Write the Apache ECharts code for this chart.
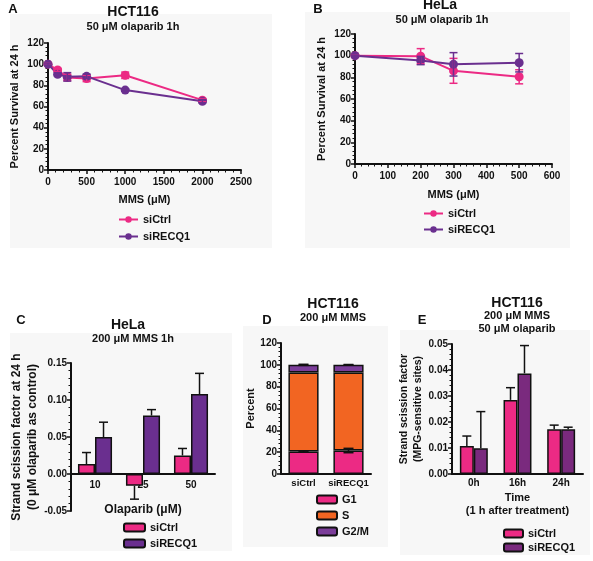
<!DOCTYPE html>
<html><head><meta charset="utf-8">
<script src="https://cdn.jsdelivr.net/npm/echarts@6/dist/echarts.min.js"></script>
<style>html,body{margin:0;padding:0;background:#fff}#c{width:593px;height:561px}</style>
</head><body><div id="c"></div>
<script>
// ---- Panel A: HCT116 survival ----
const aDose = [0, 125, 250, 500, 1000, 2000];
const aCtrl = [100, 94.5, 87.5, 86.5, 89.5, 66];
const aCtrlErr = [1, 1.5, 3, 3, 3, 1.5];
const aRecq = [100, 90.5, 88, 88.5, 75.5, 65];
const aRecqErr = [1, 1.5, 4, 2, 1, 1.5];
// ---- Panel B: HeLa survival ----
const bDose = [0, 200, 300, 500];
const bCtrl = [100, 99.5, 86, 80.5];
const bCtrlErr = [0.5, 7, 11.5, 6.5];
const bRecq = [100, 95.5, 92, 93.5];
const bRecqErr = [0.5, 3.8, 10.8, 8.5];
// ---- Panel C: HeLa strand scission ----
const cCats = ['10', '25', '50'];
const cCtrl = [0.0135, -0.016, 0.025];
const cCtrlErr = [0.0155, 0.018, 0.0095];
const cRecq = [0.050, 0.079, 0.108];
const cRecqErr = [0.020, 0.008, 0.028];
// ---- Panel D: cell cycle ----
const dCats = ['siCtrl', 'siRECQ1'];
const dG1 = [20.5, 21.5];
const dS = [72.5, 71.5];
const dG2 = [7, 7];
const dG1Err = [0.5, 2];
const dTopErr = [0.5, 0.3];
// ---- Panel E: HCT116 strand scission time course ----
const eCats = ['0h', '16h', '24h'];
const eCtrl = [0.0108, 0.0285, 0.0172];
const eCtrlErr = [0.0038, 0.0047, 0.0016];
const eRecq = [0.0099, 0.0387, 0.0172];
const eRecqErr = [0.0141, 0.0107, 0.0008];

const FONT = 'Liberation Sans';
const INK = '#111';
const PINK = '#ec2a84';
const PURPLE = '#6a2f8f';
const PURPLE_E = '#7a2a7e';
const ORANGE = '#f26522';
const G2COL = '#7b3d99';

const chart = echarts.init(document.getElementById('c'), null, {renderer: 'canvas'});

const lbl = (extra) => Object.assign({color: INK, fontFamily: FONT, fontWeight: 'bold', fontSize: 10, margin: 4, formatter: v => String(v)}, extra || {});
const nameStyle = (extra) => Object.assign({color: INK, fontFamily: FONT, fontWeight: 'bold', fontSize: 11}, extra || {});

function valAxis(gi, min, max, interval, extra) {
  return Object.assign({
    type: 'value', gridIndex: gi, min, max, interval,
    axisLine: {show: true, onZero: false, lineStyle: {color: INK, width: 2}},
    axisTick: {show: true, length: 4, lineStyle: {color: INK, width: 1.5}},
    minorTick: {show: true, splitNumber: 5, length: 2.5, lineStyle: {color: INK, width: 1}},
    splitLine: {show: false},
    axisLabel: lbl(),
    nameTextStyle: nameStyle()
  }, extra || {});
}
function catAxis(gi, data, extra) {
  return Object.assign({
    type: 'category', gridIndex: gi, data,
    axisLine: {show: true, onZero: false, lineStyle: {color: INK, width: 2}},
    axisTick: {show: false},
    axisLabel: lbl({interval: 0, margin: 4, formatter: null}),
    nameTextStyle: nameStyle()
  }, extra || {});
}

function errSeries(gi, name, vals, errs, color, opts) {
  const data = vals.map((v, i) => [opts.xs ? opts.xs[i] : i, v, errs[i]]);
  return {
    type: 'custom', name, xAxisIndex: gi, yAxisIndex: gi, z: opts.z || 3,
    encode: {x: 0, y: 1}, silent: true,
    data,
    renderItem: function (params, api) {
      const xv = api.value(0), yv = api.value(1), e = api.value(2);
      let cx = api.coord([xv, yv])[0];
      if (opts.offset !== undefined) cx += api.size([1, 0])[0] * opts.offset;
      const dir = yv < 0 ? -1 : 1;
      const yTop = api.coord([xv, yv + dir * e])[1];
      const yBot = opts.oneSided ? api.coord([xv, yv])[1] : api.coord([xv, yv - dir * e])[1];
      const hw = opts.cap / 2;
      const st = {stroke: color, lineWidth: 1.5};
      const ch = [
        {type: 'line', shape: {x1: cx, y1: yTop, x2: cx, y2: yBot}, style: st},
        {type: 'line', shape: {x1: cx - hw, y1: yTop, x2: cx + hw, y2: yTop}, style: st}
      ];
      if (!opts.oneSided) ch.push({type: 'line', shape: {x1: cx - hw, y1: yBot, x2: cx + hw, y2: yBot}, style: st});
      return {type: 'group', children: ch};
    }
  };
}

function lineSeries(gi, name, xs, ys, color) {
  return {
    type: 'line', name, xAxisIndex: gi, yAxisIndex: gi,
    data: xs.map((x, i) => [x, ys[i]]),
    symbol: 'circle', symbolSize: 9, z: 4,
    lineStyle: {color, width: 2}, itemStyle: {color},
    clip: false
  };
}
function barSeries(gi, name, vals, color, extra) {
  return Object.assign({
    type: 'bar', name, xAxisIndex: gi, yAxisIndex: gi, data: vals,
    itemStyle: {color, borderColor: INK, borderWidth: 1.5},
    barGap: '0%'
  }, extra || {});
}

const legendText = {color: INK, fontFamily: FONT, fontWeight: 'bold', fontSize: 11};
const fmt = n => n.split(':')[1];
function legend(left, top, gap, data, iw, useFmt) {
  const l = {orient: 'vertical', left, top, padding: 0, itemWidth: iw, itemHeight: 8, itemGap: gap, textStyle: legendText, data};
  if (useFmt) l.formatter = fmt;
  return l;
}

function txt(x, y, text, size, weight) {
  return {type: 'text', x, y, z: 10, style: {text, fill: INK, font: (weight || 'bold') + ' ' + size + 'px "' + FONT + '"', align: 'center', verticalAlign: 'middle'}};
}
function bgRect(x, y, w, h) {
  return {type: 'rect', shape: {x, y, width: w, height: h}, style: {fill: '#f7f7f7'}, z: -10, silent: true};
}

const option = {
  backgroundColor: '#fff',
  animation: false,
  grid: [
    {left: 48, top: 43, width: 193, height: 127},
    {left: 355, top: 34, width: 197, height: 130},
    {left: 71, top: 363, width: 144, height: 148},
    {left: 281, top: 343, width: 90, height: 131},
    {left: 452, top: 344, width: 131, height: 130}
  ],
  xAxis: [
    valAxis(0, 0, 2500, 500, {name: 'MMS (μM)', nameLocation: 'middle', nameGap: 24, axisLabel: lbl({margin: 7})}),
    valAxis(1, 0, 600, 100, {name: 'MMS (μM)', nameLocation: 'middle', nameGap: 25, axisLabel: lbl({margin: 7})}),
    catAxis(2, cCats, {name: 'Olaparib (μM)', nameLocation: 'middle', nameGap: 30, offset: -37,
      axisLabel: lbl({interval: 0, margin: 6, formatter: null}),
      nameTextStyle: nameStyle({fontSize: 12})}),
    catAxis(3, dCats, {axisLabel: lbl({interval: 0, margin: 4, formatter: null, fontSize: 9.5})}),
    catAxis(4, eCats, {name: 'Time\n(1 h after treatment)', nameLocation: 'middle', nameGap: 17, nameTextStyle: nameStyle({lineHeight: 13})})
  ],
  yAxis: [
    valAxis(0, 0, 120, 20, {name: 'Percent Survival at 24 h', nameLocation: 'middle', nameGap: 28}),
    valAxis(1, 0, 120, 20, {name: 'Percent Survival at 24 h', nameLocation: 'middle', nameGap: 28}),
    valAxis(2, -0.05, 0.15, 0.05, {name: 'Strand scission factor at 24 h\n(0 μM olaparib as control)', nameLocation: 'middle', nameGap: 30,
      axisLabel: lbl({formatter: v => v.toFixed(2)}),
      nameTextStyle: nameStyle({fontSize: 12, lineHeight: 16})}),
    valAxis(3, 0, 120, 20, {name: 'Percent', nameLocation: 'middle', nameGap: 24}),
    valAxis(4, 0, 0.05, 0.01, {name: 'Strand scission factor\n(MPG-sensitive sites)', nameLocation: 'middle', nameGap: 19,
      axisLabel: lbl({formatter: v => v.toFixed(2)}),
      nameTextStyle: nameStyle({fontSize: 10.5, lineHeight: 14})})
  ],
  legend: [
    legend(118, 214, 6, ['A:siCtrl', 'A:siRECQ1'], 19, true),
    legend(423, 208, 5, ['B:siCtrl', 'B:siRECQ1'], 19, true),
    legend(123, 522, 5, ['C:siCtrl', 'C:siRECQ1'], 21, true),
    legend(316, 494, 5, ['G1', 'S', 'G2/M'], 20, false),
    legend(503, 528, 3, ['E:siCtrl', 'E:siRECQ1'], 19, true)
  ],
  graphic: [
    bgRect(10, 14, 262, 234),
    bgRect(305, 12, 265, 236),
    bgRect(10, 333, 222, 218),
    bgRect(243, 326, 145, 221),
    bgRect(400, 330, 190, 225),
    txt(13, 9, 'A', 13), txt(133, 12, 'HCT116', 14), txt(133, 27, '50 μM olaparib 1h', 11),
    txt(318, 9, 'B', 13), txt(440, 5, 'HeLa', 14), txt(442, 20, '50 μM olaparib 1h', 11),
    txt(21, 320, 'C', 13), txt(128, 325, 'HeLa', 14), txt(133, 339, '200 μM MMS 1h', 11),
    txt(267, 320, 'D', 13), txt(333, 304, 'HCT116', 14), txt(333, 318, '200 μM MMS', 11),
    txt(422, 320, 'E', 13), txt(517, 303, 'HCT116', 14), txt(517, 316, '200 μM MMS', 11), txt(517, 329, '50 μM olaparib', 11)
  ],
  series: [
    // A
    errSeries(0, 'eA1', aCtrl, aCtrlErr, PINK, {xs: aDose, cap: 8, z: 5}),
    errSeries(0, 'eA2', aRecq, aRecqErr, PURPLE, {xs: aDose, cap: 8, z: 5}),
    lineSeries(0, 'A:siCtrl', aDose, aCtrl, PINK),
    lineSeries(0, 'A:siRECQ1', aDose, aRecq, PURPLE),
    // B
    errSeries(1, 'eB1', bCtrl, bCtrlErr, PINK, {xs: bDose, cap: 8, z: 5}),
    errSeries(1, 'eB2', bRecq, bRecqErr, PURPLE, {xs: bDose, cap: 8, z: 5}),
    lineSeries(1, 'B:siCtrl', bDose, bCtrl, PINK),
    lineSeries(1, 'B:siRECQ1', bDose, bRecq, PURPLE),
    // C
    barSeries(2, 'C:siCtrl', cCtrl, PINK, {barCategoryGap: '29%'}),
    barSeries(2, 'C:siRECQ1', cRecq, PURPLE, {barCategoryGap: '29%'}),
    errSeries(2, 'eC1', cCtrl, cCtrlErr, INK, {offset: -0.1775, cap: 9, oneSided: true, z: 1}),
    errSeries(2, 'eC2', cRecq, cRecqErr, INK, {offset: 0.1775, cap: 9, oneSided: true, z: 1}),
    // D
    barSeries(3, 'G1', dG1, PINK, {stack: 'd', barCategoryGap: '33%'}),
    barSeries(3, 'S', dS, ORANGE, {stack: 'd', barCategoryGap: '33%'}),
    barSeries(3, 'G2/M', dG2, G2COL, {stack: 'd', barCategoryGap: '33%'}),
    errSeries(3, 'eD1', dG1, dG1Err, INK, {offset: 0, cap: 10, z: 5}),
    errSeries(3, 'eD2', dG1.map((v, i) => v + dS[i] + dG2[i]), dTopErr, INK, {offset: 0, cap: 10, z: 5}),
    // E
    barSeries(4, 'E:siCtrl', eCtrl, PINK, {barCategoryGap: '36%'}),
    barSeries(4, 'E:siRECQ1', eRecq, PURPLE_E, {barCategoryGap: '36%'}),
    errSeries(4, 'eE1', eCtrl, eCtrlErr, INK, {offset: -0.16, cap: 9, oneSided: true, z: 1}),
    errSeries(4, 'eE2', eRecq, eRecqErr, INK, {offset: 0.16, cap: 9, oneSided: true, z: 1})
  ]
};
chart.setOption(option);
</script>
</body></html>
